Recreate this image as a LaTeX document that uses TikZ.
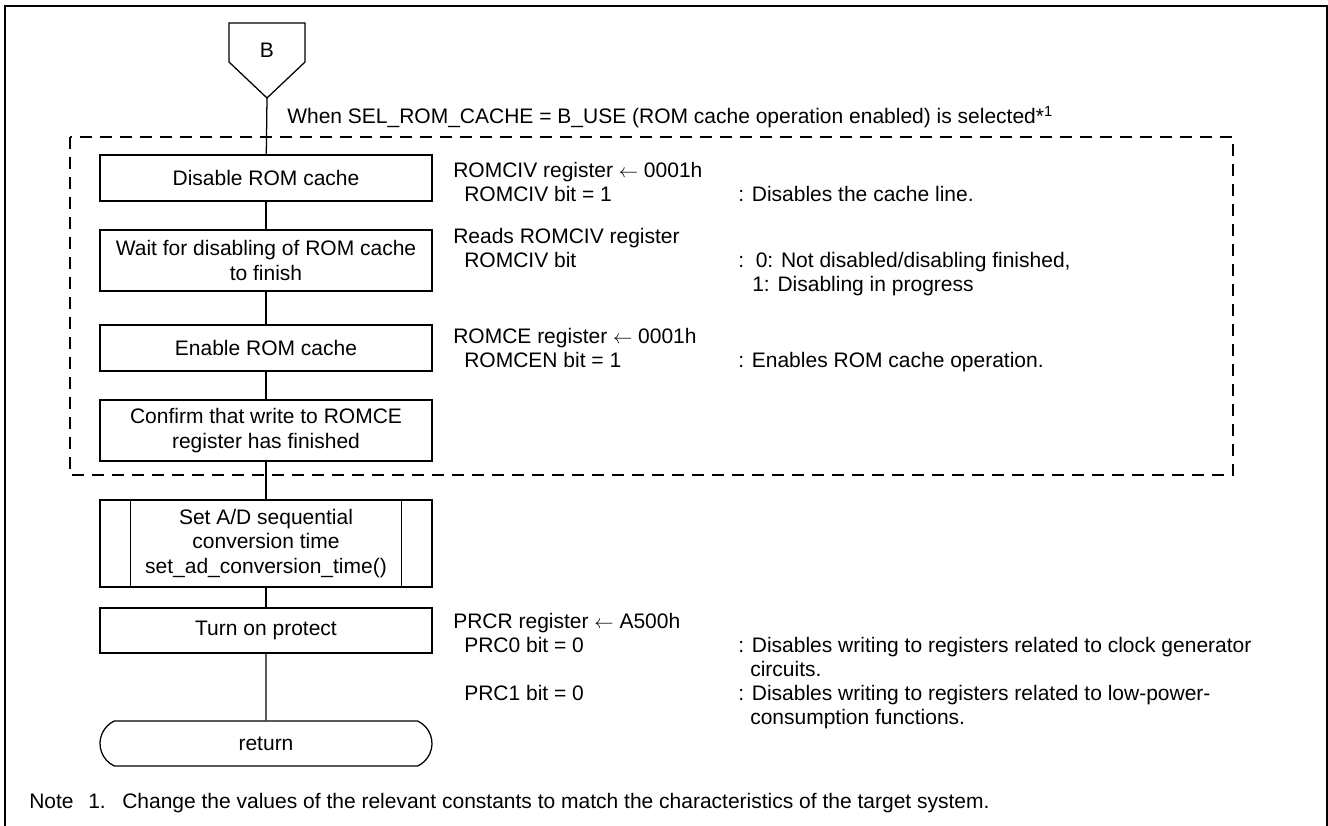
\documentclass[tikz,border=0pt]{standalone}
\usepackage{fontspec}
\setmainfont{Liberation Sans}
\usetikzlibrary{shapes.misc}
\begin{document}
\begin{tikzpicture}[x=0.75pt,y=-0.75pt,
  every node/.style={font=\fontsize{15.75}{18.4}\selectfont, inner sep=0pt},
  procbox/.style={draw, line width=0.95pt, minimum width=249pt, align=center},
  flow/.style={line width=0.95pt},
  txt/.style={anchor=base west},
  frameline/.style={line width=1.7pt},
  groupline/.style={line width=1.1pt, dash pattern=on 9pt off 6pt}]
\useasboundingbox (0,0) rectangle (1328,825);

% outer frame
\draw[frameline] (5,826) -- (5,6) -- (1327,6) -- (1327,826);

% off-page connector B
\node (bl) at (267,50) {B};
\draw[flow] (229,23) -- (305,23) -- (305,62) -- (267,98) -- (229,62) -- cycle;
\coordinate (btip) at (267,98);

% conditional group
\node[txt] (cond) at (287,123) {When SEL\_ROM\_CACHE = B\_USE (ROM cache operation enabled) is selected*\textsuperscript{1}};
\draw[groupline] (70,137) rectangle (1233,475);

% process boxes
\node[procbox, minimum height=34.5pt] (b1) at (266,178) {Disable ROM cache};
\node[procbox, minimum height=45.75pt] (b2) at (266,260.5) {Wait for disabling of ROM cache\\to finish};
\node[procbox, minimum height=34.5pt] (b3) at (266,348) {Enable ROM cache};
\node[procbox, minimum height=45.75pt] (b4) at (266,430.5) {Confirm that write to ROMCE\\register has finished};
\node[procbox, minimum height=65.25pt] (b5) at (266,543.5) {Set A/D sequential\\conversion time\\set\_ad\_conversion\_time()};
\draw[flow] ([xshift=23.25pt]b5.north west) -- ([xshift=23.25pt]b5.south west);
\draw[flow] ([xshift=-23.25pt]b5.north east) -- ([xshift=-23.25pt]b5.south east);
\node[procbox, minimum height=33.75pt] (b6) at (266,630.5) {Turn on protect};
\node[draw, line width=0.95pt, rounded rectangle, rounded rectangle arc length=130,
      minimum width=249pt, minimum height=33.75pt] (ret) at (266,743.5) {return};

% connectors
\draw[flow] (btip) -- (b1);
\draw[flow] (b1) -- (b2);
\draw[flow] (b2) -- (b3);
\draw[flow] (b3) -- (b4);
\draw[flow] (b4) -- (b5);
\draw[flow] (b5) -- (b6);
\draw[flow] (b6) -- (ret);

% register descriptions
\node[txt] (r1a) at (453,177) {ROMCIV register \(\leftarrow\) 0001h};
\node[txt] (r1b) at (464,201) {ROMCIV bit = 1};
\node[txt] (r1c) at (738,201) {: Disables the cache line.};
\node[txt] (r2a) at (453,243) {Reads ROMCIV register};
\node[txt] (r2b) at (464,267) {ROMCIV bit};
\node[txt] (r2c) at (738,267) {:\ \ 0: Not disabled/disabling finished,};
\node[txt] (r2d) at (752,291) {1: Disabling in progress};
\node[txt] (r3a) at (453,343) {ROMCE register \(\leftarrow\) 0001h};
\node[txt] (r3b) at (464,367) {ROMCEN bit = 1};
\node[txt] (r3c) at (738,367) {: Enables ROM cache operation.};
\node[txt] (p1) at (453,628) {PRCR register \(\leftarrow\) A500h};
\node[txt] (p2) at (464,652) {PRC0 bit = 0};
\node[txt] (p2c) at (738,652) {: Disables writing to registers related to clock generator};
\node[txt] (p2d) at (750,676) {circuits.};
\node[txt] (p3) at (464,700) {PRC1 bit = 0};
\node[txt] (p3c) at (738,700) {: Disables writing to registers related to low-power-};
\node[txt] (p3d) at (750,724) {consumption functions.};

% note
\node[txt] (nt) at (29,808) {Note};
\node[txt] (nn) at (88,808) {1.};
\node[txt] (ntx) at (122,808) {Change the values of the relevant constants to match the characteristics of the target system.};
\end{tikzpicture}
\end{document}
